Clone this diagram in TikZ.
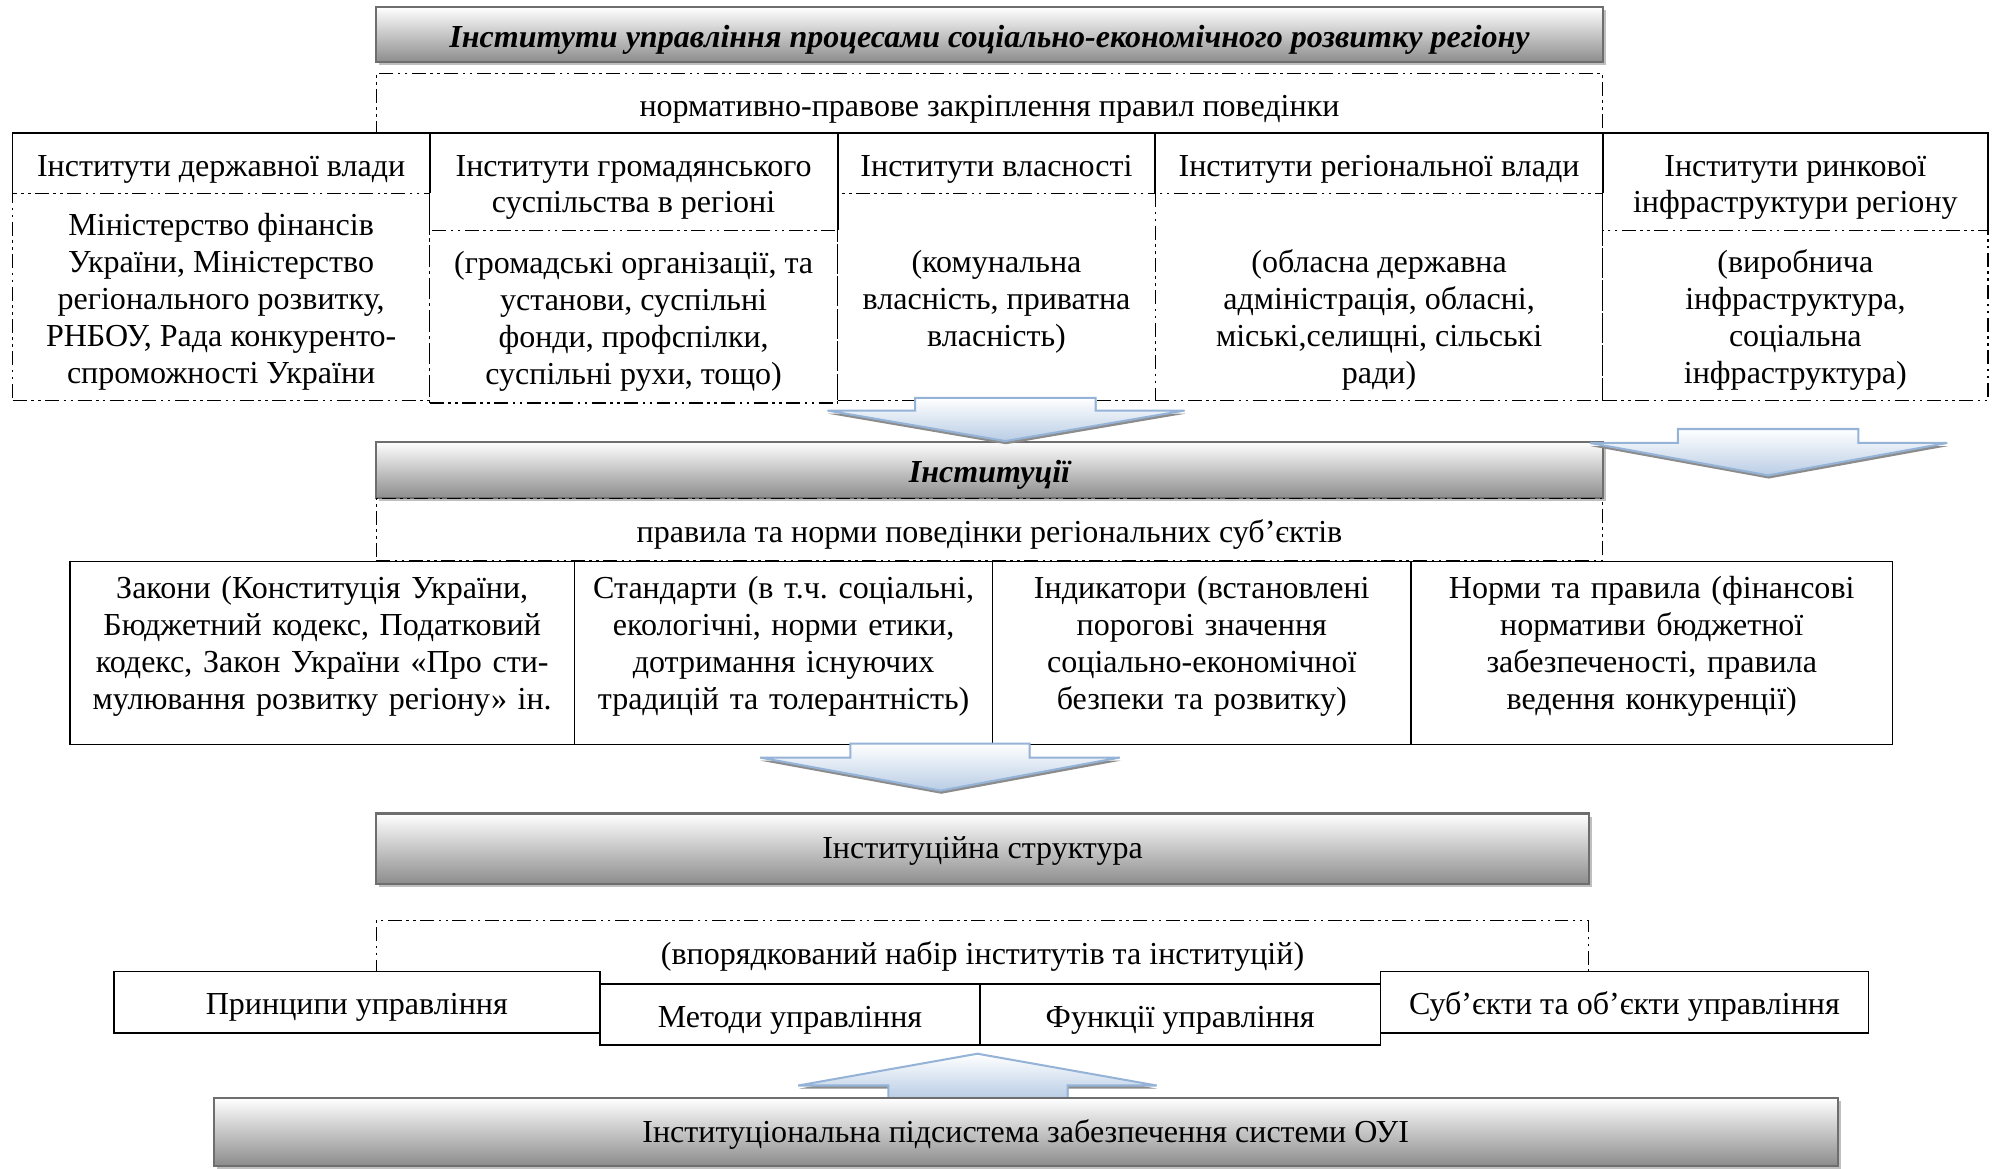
\documentclass[tikz,border=0pt]{standalone}
\usepackage{fontspec}
\setmainfont{Liberation Serif}
\frenchspacing
\usetikzlibrary{shadows}
\definecolor{arrowline}{RGB}{149,179,215}
\definecolor{arrowfill}{RGB}{185,205,229}
\definecolor{boxline}{RGB}{110,110,110}
\tikzset{
  every node/.style={font=\fontsize{25.2}{29}\selectfont, align=center, text height=28pt, text depth=8pt},
  lines/.code={\pgfmathsetlengthmacro\linesht{28pt+(#1-1)*29pt}\tikzset{text height/.expanded=\linesht}},
  dashdot/.style={line width=1pt, dash pattern=on 11pt off 3.5pt on 2pt off 3.5pt on 2pt off 3.5pt},
  graybox/.style={draw=boxline, line width=1.6pt, top color=white, bottom color=black!45, inner sep=0pt,
    drop shadow={shadow xshift=2.5pt, shadow yshift=-2.5pt, fill=black!25, opacity=1}},
  dashbox/.style={draw, dashdot, inner sep=0pt},
  hdr/.style={fill=white, inner sep=0pt},
  cell/.style={draw, dashdot, fill=white, inner sep=0pt},
  lawbox/.style={draw, line width=1.2pt, fill=white, anchor=north, inner xsep=4pt, inner ysep=0pt,
    text height=29.5pt, text depth=114.5pt},
  plainbox/.style={draw, line width=1.2pt, fill=white, inner sep=0pt},
  barrow/.style={draw=arrowline, line width=1.6pt, top color=white, bottom color=arrowfill,
    drop shadow={shadow xshift=0.5pt, shadow yshift=-2.5pt, fill=black!45, opacity=1}}
}
\begin{document}
\begin{tikzpicture}[x=1pt, y=-1pt]
\useasboundingbox (0,0) rectangle (1568,919);

\node[graybox, minimum width=965, minimum height=43.5, font=\fontsize{25.2}{29}\selectfont\bfseries\itshape] (title) at (778.5,27.25) {Інститути управління процесами соціально-економічного розвитку регіону};
\node[dashbox, minimum width=965, minimum height=47] (rulesA) at (778.5,81.5) {нормативно-правове закріплення правил поведінки};

\node[cell, lines=5, minimum width=328, minimum height=163] (cA) at (174,233.5) {Міністерство фінансів\\України, Міністерство\\регіонального розвитку,\\РНБОУ, Рада конкуренто-\\спроможності України};
\node[cell, lines=4, minimum width=321, minimum height=136] (cB) at (498.5,249) {(громадські організації, та\\установи, суспільні\\фонди, профспілки,\\суспільні рухи, тощо)};
\node[cell, lines=3, minimum width=250, minimum height=163] (cC) at (784,233.5) {(комунальна\\власність, приватна\\власність)};
\node[cell, lines=5, minimum width=352, minimum height=163] (cD) at (1085,233.5) {\mbox{}\\(обласна державна\\адміністрація, обласні,\\міські,селищні, сільські\\ради)};
\node[cell, lines=4, minimum width=303, minimum height=134] (cE) at (1412.5,248) {(виробнича\\інфраструктура,\\соціальна\\інфраструктура)};

\node[hdr, minimum width=328, minimum height=47] (hA) at (174,128.5) {Інститути державної влади};
\node[hdr, lines=2, minimum width=321, minimum height=76] (hB) at (498.5,143) {Інститути громадянського\\суспільства в регіоні};
\node[hdr, minimum width=250, minimum height=47] (hC) at (784,128.5) {Інститути власності};
\node[hdr, minimum width=352, minimum height=47] (hD) at (1085,128.5) {Інститути регіональної влади};
\node[hdr, lines=2, minimum width=303, minimum height=76] (hE) at (1412.5,143) {Інститути ринкової\\інфраструктури регіону};
\foreach \n in {hA,hB,hC,hD,hE}
  \draw[line width=1.2pt] (\n.south west) -- (\n.north west) -- (\n.north east) -- (\n.south east);

\node[graybox, minimum width=965, minimum height=44.5, font=\fontsize{25.2}{29}\selectfont\bfseries\itshape] (inst) at (778.5,369.75) {Інституції};
\draw[barrow] (720,313) -- (862,313) -- (862,323) -- (932,323) -- (791,347) -- (651,323) -- (720,323) -- cycle;
\draw[barrow] (1320,337.5) -- (1462,337.5) -- (1462,348.5) -- (1532,348.5) -- (1391,374) -- (1251,348.5) -- (1320,348.5) -- cycle;

\node[dashbox, minimum width=965, minimum height=49] (rulesB) at (778.5,416.5) {правила та норми поведінки регіональних суб’єктів};

\node[lawbox, text width=389] (laws) at (253.5,441) {Закони (Конституція України,\\Бюджетний кодекс, Податковий\\кодекс, Закон України «Про сти-\\мулювання розвитку регіону» ін.};
\node[lawbox, text width=321] (stand) at (616.5,441) {Стандарти (в т.ч. соціальні,\\екологічні, норми етики,\\дотримання існуючих\\традицій та толерантність)};
\node[lawbox, text width=321] (indic) at (945.5,441) {Індикатори (встановлені\\порогові значення\\соціально-економічної\\безпеки та розвитку)};
\node[lawbox, text width=371] (norms) at (1299.5,441) {Норми та правила (фінансові\\нормативи бюджетної\\забезпеченості, правила\\ведення конкуренції)};

\draw[barrow] (669,585) -- (810,585) -- (810,596) -- (881,596) -- (740,622) -- (598,596) -- (669,596) -- cycle;

\node[graybox, text height=26pt, text depth=10pt, minimum width=954, minimum height=55.5] (struct) at (773,667.75) {Інституційна структура};
\node[dashbox, minimum width=954, minimum height=50] (order) at (773,749) {(впорядкований набір інститутів та інституцій)};

\node[plainbox, minimum width=382.5, minimum height=48] (prin) at (280.75,788.5) {Принципи управління};
\node[plainbox, minimum width=299, minimum height=48] (meth) at (621.5,798) {Методи управління};
\node[plainbox, minimum width=315, minimum height=48] (func) at (928.5,798) {Функції управління};
\node[plainbox, minimum width=384, minimum height=48] (subj) at (1278,788.5) {Суб’єкти та об’єкти управління};

\draw[barrow] (769,829) -- (910,854) -- (840,854) -- (840,864) -- (699,864) -- (699,854) -- (628,854) -- cycle;

\node[graybox, text height=26pt, text depth=10pt, minimum width=1278, minimum height=53] (base) at (807,890.5) {Інституціональна підсистема забезпечення системи ОУІ};
\end{tikzpicture}
\end{document}
